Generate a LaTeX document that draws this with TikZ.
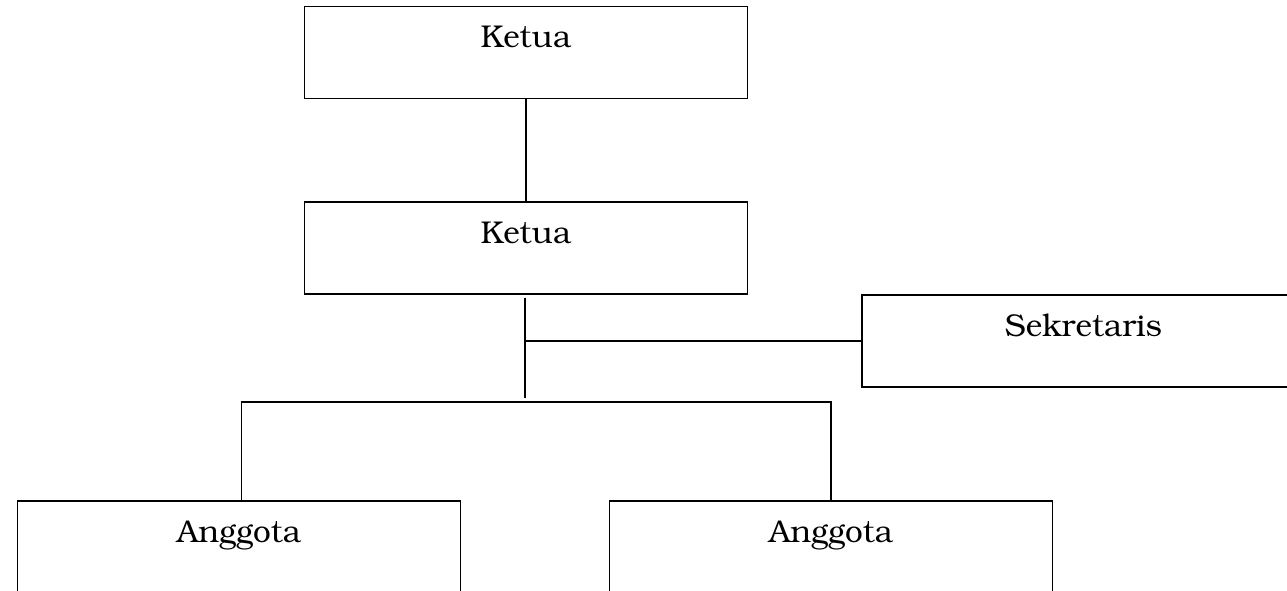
\documentclass[tikz,border=0pt]{standalone}
\usepackage[T1]{fontenc}
\usepackage{bookman}

\tikzset{every picture/.style={line width=1.2pt}}
\tikzset{orgbox/.style={draw, rectangle, minimum width=443pt, minimum height=92pt, inner sep=0pt}}
\tikzset{orgtitle/.style={anchor=base, yshift=-42pt, font=\fontsize{31.5}{38}\selectfont}}

\begin{document}
\begin{tikzpicture}[x=1pt,y=1pt,yscale=-1,xscale=1]
	\useasboundingbox (0,0) rectangle (1287,591);

	%Shape: Rectangle [id:ketua1]
	\node [orgbox, label={[orgtitle]north:Ketua}] (ketua1) at (526,52.5) {};
	%Shape: Rectangle [id:ketua2]
	\node [orgbox, label={[orgtitle]north:Ketua}] (ketua2) at (526,248) {};
	%Shape: Rectangle [id:sekretaris]
	\node [orgbox, label={[orgtitle]north:Sekretaris}] (sekretaris) at (1083.5,341) {};
	%Shape: Rectangle [id:anggota1]
	\node [orgbox, label={[orgtitle]north:Anggota}] (anggota1) at (239,547) {};
	%Shape: Rectangle [id:anggota2]
	\node [orgbox, label={[orgtitle]north:Anggota}] (anggota2) at (831,547) {};

	\coordinate (stem) at (525,398);
	\coordinate (bar) at (525,402);

	%Straight Lines [id:ketua1-ketua2]
	\draw (ketua1.south) -- (ketua2.north) ;
	%Straight Lines [id:ketua2-stem]
	\draw ([yshift=3pt]ketua2.south -| stem) -- (stem) ;
	%Straight Lines [id:sekretaris]
	\draw (sekretaris.west) -- (sekretaris.west -| stem) ;
	%Straight Lines [id:anggota]
	\draw ([xshift=2.5pt]anggota1.north) |- (bar) -| (anggota2.north) ;

\end{tikzpicture}
\end{document}
